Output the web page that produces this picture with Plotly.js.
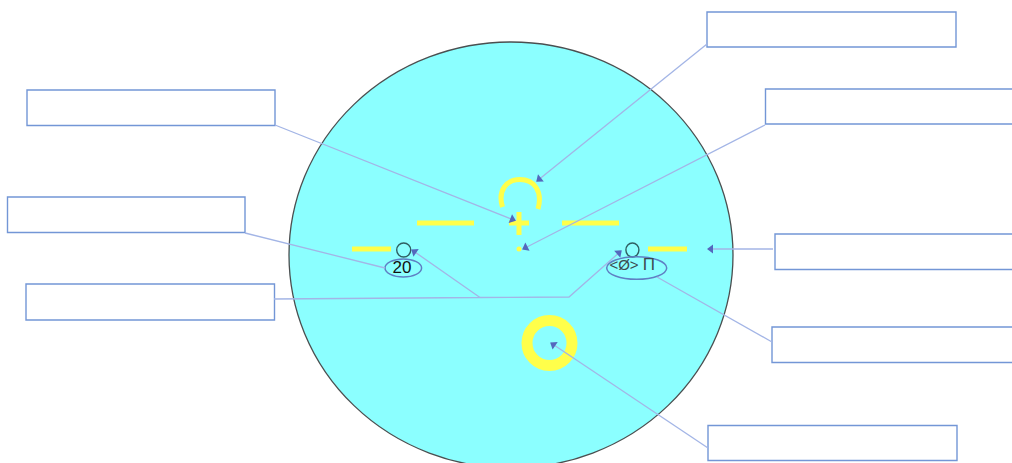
<!DOCTYPE html>
<html>
<head>
<meta charset="utf-8">
<script src="https://cdn.plot.ly/plotly-3.0.1.min.js"></script>
<style>html,body{margin:0;padding:0;background:#fff}#chart{width:1012px;height:463px}</style>
</head>
<body>
<div id="chart"></div>
<script>
// Callout boxes [x0, y0, x1, y1]
const calloutBoxes = [
  [707, 12, 956, 47], [765.5, 89, 1016, 124], [27, 90, 275, 125.5], [7.5, 197, 245, 232.5],
  [26, 284, 274.5, 320], [775, 234, 1016, 269.5], [772, 327, 1016, 362.5], [708, 425.5, 957, 460.5]
];
// Leader lines, last point is the tip
const leaderLines = [
  {x: [707, 537], y: [44, 181], arrow: true},
  {x: [765, 523], y: [125, 249], arrow: true},
  {x: [275, 515], y: [125, 220.5], arrow: true},
  {x: [245, 385], y: [233, 268], arrow: false},
  {x: [274, 480, 412], y: [299, 297.5, 250], arrow: true},
  {x: [480, 569, 621], y: [297.5, 297, 251], arrow: true},
  {x: [773, 708], y: [249, 249], arrow: true},
  {x: [772, 657], y: [342, 277], arrow: false},
  {x: [708, 551], y: [448, 343], arrow: true}
];
// Yellow horizon bars
const barStartX = [417, 562, 352, 648];
const barEndX = [474, 619, 391, 687];
const barY = [223, 223, 249, 249];
// Cross and dot
const crossH = {x: [509, 529], y: [223, 223]};
const crossV = {x: [519, 519], y: [212, 235]};
const dotPoint = {x: [519], y: [249]};
// Face disc, ring, small circles [cx, cy, rx, ry]
const faceDisc = [511, 255, 222, 213];
const ring = [549.5, 343, 22.5, 22.5];
const smallCircles = [[403.7, 250, 7, 7], [632.4, 250, 6.5, 7]];
const ovals = [[403.3, 268, 18.3, 9], [636.7, 268, 30, 11.3]];
// Labels
const labelText = ["20", "<Ø>", "Π"];
const labelX = [402, 624, 649];
const labelY = [268.5, 266, 266];
const labelSize = [17, 15, 17];
const labelColor = ["#111111", "#3c4a50", "#3c4a50"];
// Arc above the cross: start, two cubic segments, end
const arcPath = "M 502.5 207 C 497.5 191 506 179.5 520 179.5 C 534 179.5 543 191 538 209";

const YELLOW = "#ffff4a", LEADER = "#a3b5e6", HEAD = "#5468bd", BOX = "#7396d6", OVAL = "#5f80c4", DARK = "#2f5f62";

const ellipse = (c, line, width, fill) => ({
  type: "circle", xref: "x", yref: "y", layer: "below",
  x0: c[0] - c[2], x1: c[0] + c[2], y0: c[1] - c[3], y1: c[1] + c[3],
  line: {color: line, width: width}, fillcolor: fill || "rgba(0,0,0,0)"
});

const shapes = [
  ellipse(faceDisc, "#4a4f50", 1.3, "#8bffff"),
  ellipse(ring, YELLOW, 11),
  {type: "path", path: arcPath, xref: "x", yref: "y", layer: "below", line: {color: YELLOW, width: 5}},
  ...smallCircles.map(c => ellipse(c, DARK, 1.4)),
  ...ovals.map(c => ellipse(c, OVAL, 1.5)),
  ...calloutBoxes.map(b => ({
    type: "rect", xref: "x", yref: "y", layer: "below",
    x0: b[0], y0: b[1], x1: b[2], y1: b[3],
    line: {color: BOX, width: 1.4}, fillcolor: "#ffffff"
  }))
];

const traces = [];
barStartX.forEach((x0, i) => traces.push({
  type: "scatter", mode: "lines", x: [x0, barEndX[i]], y: [barY[i], barY[i]],
  line: {color: YELLOW, width: 5}, hoverinfo: "skip"
}));
[crossH, crossV].forEach(s => traces.push({
  type: "scatter", mode: "lines", x: s.x, y: s.y, line: {color: YELLOW, width: 5}, hoverinfo: "skip"
}));
traces.push({
  type: "scatter", mode: "markers", x: dotPoint.x, y: dotPoint.y,
  marker: {color: YELLOW, size: 5, symbol: "circle"}, hoverinfo: "skip"
});
leaderLines.forEach(l => traces.push({
  type: "scatter", mode: "lines", x: l.x, y: l.y, line: {color: LEADER, width: 1.3}, hoverinfo: "skip"
}));
leaderLines.filter(l => l.arrow).forEach(l => {
  const n = l.x.length - 1;
  const dx = l.x[n] - l.x[n - 1], dy = l.y[n] - l.y[n - 1];
  const bearing = Math.atan2(dx, -dy) * 180 / Math.PI;
  const len = Math.hypot(dx, dy);
  traces.push({
    type: "scatter", mode: "markers",
    x: [l.x[n] - dx / len * 3], y: [l.y[n] - dy / len * 3],
    marker: {color: HEAD, size: 8, symbol: "triangle-up", angle: bearing, line: {width: 0}},
    hoverinfo: "skip"
  });
});
labelText.forEach((t, i) => traces.push({
  type: "scatter", mode: "text", x: [labelX[i]], y: [labelY[i]], text: [t],
  textposition: "middle center",
  textfont: {family: "Liberation Sans, Arial, sans-serif", size: labelSize[i], color: labelColor[i]},
  hoverinfo: "skip"
}));

const hiddenAxis = {visible: false, fixedrange: true, showgrid: false, zeroline: false};
Plotly.newPlot("chart", traces, {
  width: 1012, height: 463,
  margin: {l: 0, r: 0, t: 0, b: 0},
  paper_bgcolor: "#ffffff", plot_bgcolor: "#ffffff",
  showlegend: false,
  xaxis: Object.assign({range: [0, 1012]}, hiddenAxis),
  yaxis: Object.assign({range: [463, 0]}, hiddenAxis),
  shapes: shapes
}, {displayModeBar: false, staticPlot: true});
</script>
</body>
</html>
